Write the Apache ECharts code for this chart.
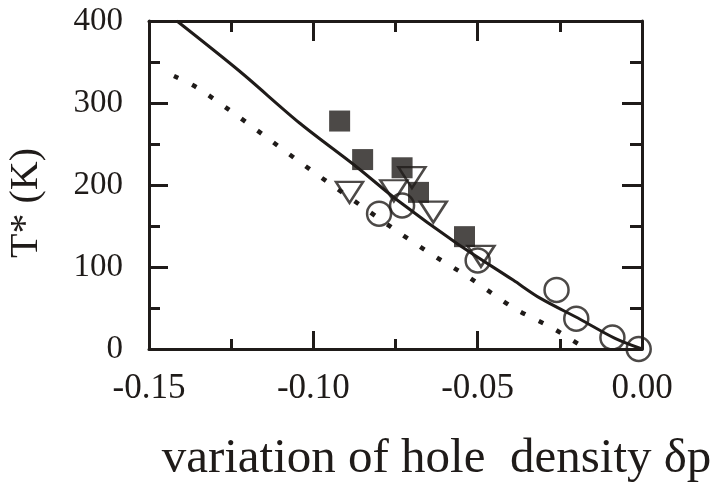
<!DOCTYPE html>
<html>
<head>
<meta charset="utf-8">
<script src="https://cdn.jsdelivr.net/npm/echarts@6/dist/echarts.min.js"></script>
<style>
  html, body { margin: 0; padding: 0; background: #fff; }
  #main { width: 712px; height: 489px; }
</style>
</head>
<body>
<div id="main"></div>
<script>
// values
const squareX = [-0.092, -0.085, -0.073, -0.068, -0.054];
const squareY = [278, 231, 221, 191, 137];
const triangleX = [-0.089, -0.070, -0.0755, -0.0635, -0.049];
const triangleY = [191, 209, 193, 167, 113];
const circleX = [-0.080, -0.073, -0.050, -0.026, -0.020, -0.009, -0.001];
const circleY = [165, 175, 108, 72, 37, 14, 0];
// solid curve
const solidX = [-0.1415, -0.1225, -0.104, -0.0868, -0.0746, -0.0564, -0.0392, -0.031, -0.0187, -0.0082, 0];
const solidY = [400, 339, 275, 222, 182, 129, 84, 62, 36, 13, 0];
// dotted curve
const dottedX = [-0.1424, -0.1355, -0.1254, -0.1152, -0.1041, -0.0944, -0.0838, -0.0736, -0.0630, -0.0529, -0.039, -0.027, -0.017];
const dottedY = [333, 319, 291, 261, 228, 200, 170, 141, 113, 88, 50, 25, 0];

const xTicks = ['-0.15', '-0.10', '-0.05', '0.00'];
const yTicks = ['0', '100', '200', '300', '400'];

const ink = '#1f1b19';
const serif = '"Liberation Serif", "DejaVu Serif", serif';

function pairs(xs, ys) {
  return xs.map((x, i) => [x, ys[i]]);
}

const chart = echarts.init(document.getElementById('main'));

const tickStyle = { color: ink, width: 3 };
const boxLine = { show: true, onZero: false, lineStyle: { color: ink, width: 3 } };

const option = {
  backgroundColor: '#fff',
  animation: false,
  grid: { left: 149, right: 70, top: 21, bottom: 140, containLabel: false, outerBoundsMode: 'none' },
  xAxis: [
    {
      type: 'value', min: -0.15, max: 0, interval: 0.05,
      axisLine: boxLine,
      axisTick: { inside: true, length: 18, lineStyle: tickStyle },
      minorTick: { show: true, splitNumber: 2, length: 10, lineStyle: tickStyle },
      splitLine: { show: false },
      axisLabel: {
        margin: 22, color: ink, fontFamily: serif, fontSize: 35,
        formatter: v => xTicks[Math.round((v + 0.15) / 0.05)]
      },
      name: 'variation of hole  density \u03b4p',
      nameLocation: 'middle', nameGap: 86,
      nameTextStyle: { color: ink, fontFamily: serif, fontSize: 49, padding: [0, 0, 0, 82] }
    },
    {
      type: 'value', position: 'top', min: -0.15, max: 0, interval: 0.05,
      axisLine: boxLine,
      axisTick: { show: true, inside: true, length: 20, lineStyle: tickStyle },
      minorTick: { show: true, splitNumber: 2, length: 11, lineStyle: tickStyle },
      splitLine: { show: false },
      axisLabel: { show: false }
    }
  ],
  yAxis: [
    {
      type: 'value', min: 0, max: 400, interval: 100,
      axisLine: boxLine,
      axisTick: { show: true, inside: true, length: 19, lineStyle: tickStyle },
      minorTick: { show: true, splitNumber: 2, length: 11, lineStyle: tickStyle },
      splitLine: { show: false },
      axisLabel: {
        margin: 26, color: ink, fontFamily: serif, fontSize: 33,
        formatter: v => yTicks[Math.round(v / 100)]
      },
      name: 'T* (K)',
      nameLocation: 'middle', nameGap: 103,
      nameTextStyle: { color: ink, fontFamily: serif, fontSize: 40, padding: [0, 36, 0, 0] }
    },
    {
      type: 'value', position: 'right', min: 0, max: 400, interval: 100,
      axisLine: boxLine,
      axisTick: { show: true, inside: true, length: 20, lineStyle: tickStyle },
      minorTick: { show: true, splitNumber: 2, length: 12, lineStyle: tickStyle },
      splitLine: { show: false },
      axisLabel: { show: false }
    }
  ],
  series: [
    {
      name: 'dotted', type: 'line', data: pairs(dottedX, dottedY),
      smooth: 0.3, symbol: 'none', z: 2,
      lineStyle: { color: ink, width: 4.5, type: [5, 15] }
    },
    {
      name: 'circles', type: 'scatter', data: pairs(circleX, circleY),
      symbol: 'circle', symbolSize: 24, z: 3,
      itemStyle: { color: 'rgba(255,255,255,0)', borderColor: ink, borderWidth: 2.5 }
    },
    {
      name: 'triangles', type: 'scatter', data: pairs(triangleX, triangleY),
      symbol: 'triangle', symbolSize: [27, 21], symbolRotate: 180, z: 4,
      itemStyle: { color: 'rgba(255,255,255,0)', borderColor: ink, borderWidth: 2.5 }
    },
    {
      name: 'solid', type: 'line', data: pairs(solidX, solidY),
      smooth: 0.3, symbol: 'none', z: 5,
      lineStyle: { color: ink, width: 3 }
    },
    {
      name: 'squares', type: 'scatter', data: pairs(squareX, squareY),
      symbol: 'rect', symbolSize: 21, z: 6,
      itemStyle: { color: ink }
    }
  ]
};

chart.setOption(option);
</script>
</body>
</html>
